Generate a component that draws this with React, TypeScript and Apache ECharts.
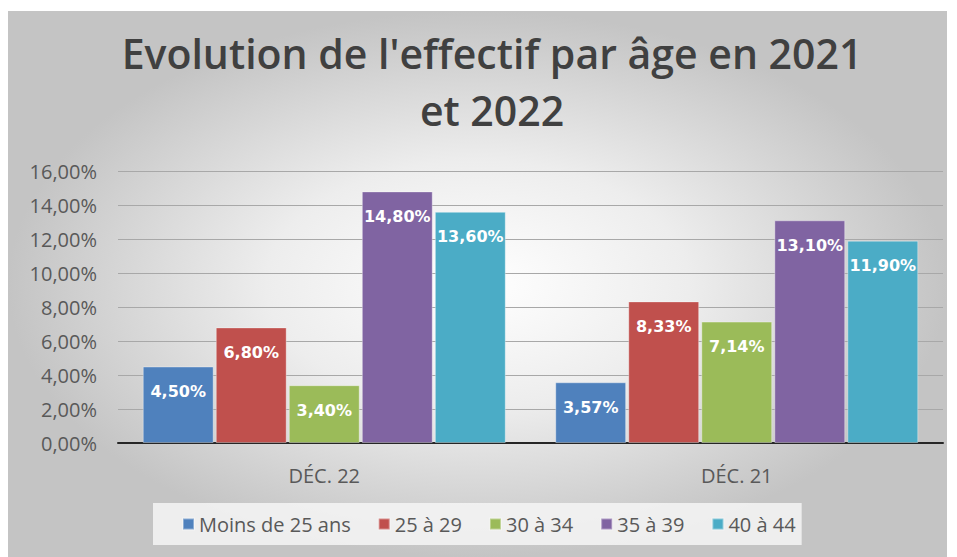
import React, { useEffect, useRef } from "react";
import * as echarts from "echarts";

const TITLE = "Evolution de l'effectif par âge en 2021\net 2022";
const categories = ["DÉC. 22", "DÉC. 21"];
const seriesNames = ["Moins de 25 ans", "25 à 29", "30 à 34", "35 à 39", "40 à 44"];
const moins25 = [4.5, 3.57];
const age25_29 = [6.8, 8.33];
const age30_34 = [3.4, 7.14];
const age35_39 = [14.8, 13.1];
const age40_44 = [13.6, 11.9];
const colors = ["#4f81bd", "#c0504d", "#9bbb59", "#8064a2", "#4bacc6"];

const fmt = (v: number) => v.toFixed(2).replace(".", ",") + "%";

export default function App() {
  const ref = useRef<HTMLDivElement>(null);
  useEffect(() => {
    if (!ref.current) return;
    const chart = echarts.init(ref.current, undefined, { renderer: "svg" });
    const values = [moins25, age25_29, age30_34, age35_39, age40_44];
    chart.setOption({
      animation: false,
      backgroundColor: "#ffffff",
      color: colors,
      graphic: [
        {
          type: "rect",
          z: -10,
          silent: true,
          shape: { x: 8, y: 11, width: 939, height: 546 },
          style: {
            fill: {
              type: "radial",
              x: 0.5,
              y: 0.5,
              r: 0.5,
              colorStops: [
                { offset: 0, color: "#ffffff" },
                { offset: 0.45, color: "#ededed" },
                { offset: 1, color: "#c4c4c4" },
              ],
            },
          },
        },
        {
          type: "text",
          x: 492,
          y: 24,
          z: 10,
          style: {
            text: TITLE,
            textAlign: "center",
            textVerticalAlign: "top",
            fontFamily: "Open Sans",
            fontWeight: 600,
            fontSize: 41,
            lineHeight: 57,
            fill: "#404040",
          },
        },
      ],
      grid: { left: 118, right: 14, top: 171, bottom: 114 },
      legend: {
        top: 503,
        left: 153,
        icon: "rect",
        itemWidth: 11,
        itemHeight: 11,
        itemGap: 27,
        padding: [11, 6, 11, 29],
        backgroundColor: "rgba(246,246,246,0.85)",
        textStyle: { fontFamily: "Open Sans", fontSize: 20, color: "#595959", padding: [0, 0, 0, 0] },
        data: seriesNames,
      },
      xAxis: {
        type: "category",
        data: categories,
        axisTick: { show: false },
        axisLine: { lineStyle: { color: "#262626", width: 2 } },
        axisLabel: { margin: 22, fontFamily: "Open Sans", fontSize: 20, color: "#595959" },
      },
      yAxis: {
        type: "value",
        min: 0,
        max: 16,
        interval: 2,
        axisLine: { show: false },
        axisTick: { show: false },
        splitLine: { lineStyle: { color: "#a8a8a8", width: 1 } },
        axisLabel: {
          margin: 21,
          fontFamily: "Open Sans",
          fontSize: 20,
          color: "#595959",
          formatter: (v: number) => fmt(v),
        },
      },
      series: seriesNames.map((name, i) => ({
        name,
        type: "bar",
        data: values[i],
        barGap: "3%",
        barCategoryGap: "12%",
        itemStyle: { color: colors[i], borderColor: "rgba(255,255,255,0.35)", borderWidth: 1 },
        label: {
          show: true,
          position: "insideTop",
          distance: 17,
          color: "#ffffff",
          fontFamily: "DejaVu Sans",
          fontWeight: "bold",
          fontSize: 16,
          formatter: (p: any) => fmt(p.value),
        },
      })),
    });
    return () => chart.dispose();
  }, []);
  return <div ref={ref} style={{ position: "fixed", left: 0, top: 0, width: 957, height: 557 }} />;
}
